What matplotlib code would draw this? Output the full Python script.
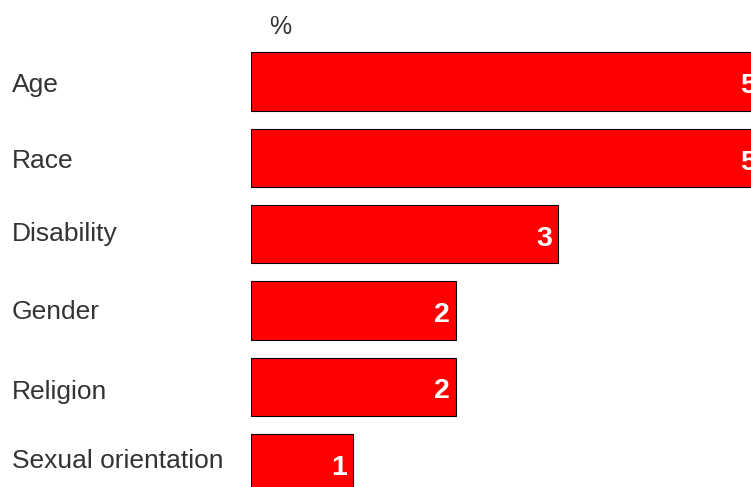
import matplotlib
matplotlib.use("Agg")
import matplotlib.pyplot as plt
import matplotlib.transforms as mtransforms

categories = ["Age", "Race", "Disability", "Gender", "Religion", "Sexual orientation"]
values = [5, 5, 3, 2, 2, 1]
unit_label = "%"

plt.rcParams['font.family'] = ['Liberation Sans', 'DejaVu Sans']

W, H = 751, 487
fig = plt.figure(figsize=(W / 100, H / 100), dpi=100)

px_per_unit = 102.3
left_px = 251
ax = fig.add_axes([left_px / W, 0, 1 - left_px / W, 1])
ax.set_xlim(0, (W - left_px) / px_per_unit)
top_c, step = 81.5, 76.3
ax.set_ylim((H - top_c) / step, -top_c / step)

ypos = list(range(len(categories)))
ax.barh(ypos, values, height=0.765, color="#ff0000", edgecolor="black", linewidth=0.8)

# value labels: white bold, right-aligned inside bar end
for y, v in zip(ypos, values):
    ax.annotate(str(v), xy=(v, y), xytext=(-6, -11.7), textcoords="offset pixels",
                ha="right", va="baseline", color="white", fontsize=20.5, fontweight="bold",
                annotation_clip=False)

# category labels at the left edge (baseline offsets below bar centre, in pixels)
label_baseline_px = [10.5, 10.3, 6.4, 8.3, 11.8, 4.8]
for y, c, off in zip(ypos, categories, label_baseline_px):
    tr = mtransforms.blended_transform_factory(fig.transFigure, ax.transData) + \
        mtransforms.ScaledTranslation(0, -off / 100, fig.dpi_scale_trans)
    ax.text(12 / W, y, c, transform=tr, ha="left", va="baseline",
            fontsize=19, color="#333333", clip_on=False)

fig.text(269 / W, 1 - 34 / H, unit_label, ha="left", va="baseline",
         fontsize=18, color="#333333")

ax.axis("off")
fig.savefig("out.png", dpi=100)
